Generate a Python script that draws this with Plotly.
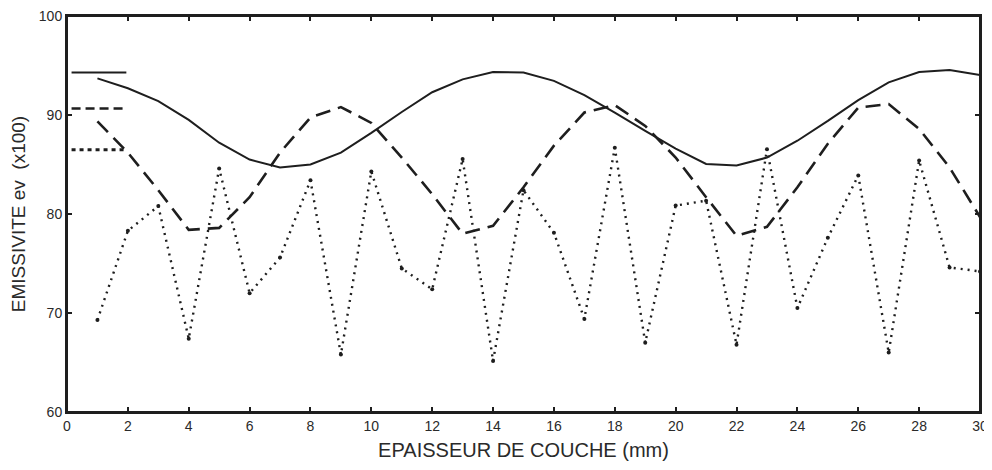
import plotly.graph_objects as go

# layer thickness (mm)
thickness = list(range(1, 31))

# emissivity (x100)
ev_solid = [93.7, 92.7, 91.4, 89.5, 87.2, 85.5, 84.7, 85.0, 86.2, 88.2,
            90.3, 92.3, 93.6, 94.35, 94.3, 93.45, 92.0, 90.25, 88.4, 86.6,
            85.05, 84.9, 85.7, 87.4, 89.4, 91.5, 93.3, 94.35, 94.55, 94.05]
ev_dashed = [89.35, 86.2, 82.4, 78.4, 78.6, 81.7, 86.2, 89.75, 90.8, 89.2,
             85.7, 82.0, 78.0, 78.8, 82.7, 86.9, 90.25, 91.0, 88.9, 85.7,
             81.7, 77.8, 78.7, 82.7, 87.1, 90.75, 91.1, 88.6, 84.7, 79.7]
ev_dotted = [69.3, 78.3, 80.8, 67.4, 84.6, 72.0, 75.6, 83.4, 65.8, 84.3,
             74.5, 72.4, 85.55, 65.15, 82.4, 78.1, 69.4, 86.7, 67.0, 80.85,
             81.35, 66.8, 86.55, 70.5, 77.6, 83.9, 66.0, 85.4, 74.6, 74.2]

# limit values drawn as short marks at the left edge
limit_x = [0.15, 1.95]
limit_solid = 94.3
limit_dashed = 90.65
limit_dotted = 86.5

ink = "#1e1e1e"

fig = go.Figure()
fig.add_trace(go.Scatter(x=thickness, y=ev_solid, mode="lines",
                         line=dict(color=ink, width=2)))
fig.add_trace(go.Scatter(x=thickness, y=ev_dashed, mode="lines",
                         line=dict(color=ink, width=2.6, dash="15px,8px")))
fig.add_trace(go.Scatter(x=thickness, y=ev_dotted, mode="lines+markers",
                         line=dict(color=ink, width=2.4, dash="2px,5px"),
                         marker=dict(color=ink, size=4)))

# limit marks
fig.add_trace(go.Scatter(x=limit_x, y=[limit_solid] * 2, mode="lines",
                         line=dict(color=ink, width=2)))
fig.add_trace(go.Scatter(x=limit_x, y=[limit_dashed] * 2, mode="lines",
                         line=dict(color=ink, width=2.4, dash="9px,5px")))
fig.add_trace(go.Scatter(x=limit_x, y=[limit_dotted] * 2, mode="lines",
                         line=dict(color=ink, width=3, dash="4px,4px")))

# the page body adds an 8px margin, so the figure is shifted by 8px
fig.update_layout(
    width=984, height=454,
    margin=dict(l=59, r=12, t=8, b=50),
    plot_bgcolor="white", paper_bgcolor="white",
    showlegend=False,
    font=dict(family="Liberation Sans, Arial, sans-serif", size=14, color="#2a2a2a"),
)
# frame around the plot area
fig.add_shape(type="rect", xref="x", yref="y", x0=0, y0=60, x1=30, y1=100,
              line=dict(color=ink, width=2), layer="above")
fig.update_xaxes(
    range=[0, 30], tick0=0, dtick=2, ticks="inside", ticklen=5, tickwidth=1.5,
    tickcolor=ink, showline=True, linewidth=2, linecolor=ink, mirror="allticks",
    automargin=False, showgrid=False, zeroline=False, ticklabeloverflow="allow",
    title=dict(text="EPAISSEUR DE COUCHE (mm)", font=dict(size=20), standoff=10),
)
fig.update_yaxes(
    range=[60, 100], tick0=60, dtick=10, ticks="inside", ticklen=5, tickwidth=1.5,
    tickcolor=ink, showline=True, linewidth=2, linecolor=ink, mirror="allticks",
    automargin=False, showgrid=False, zeroline=False, ticklabeloverflow="allow",
    title=dict(text="EMISSIVITE ev  (x100)", font=dict(size=19), standoff=8),
)

fig.write_html("out.html")
